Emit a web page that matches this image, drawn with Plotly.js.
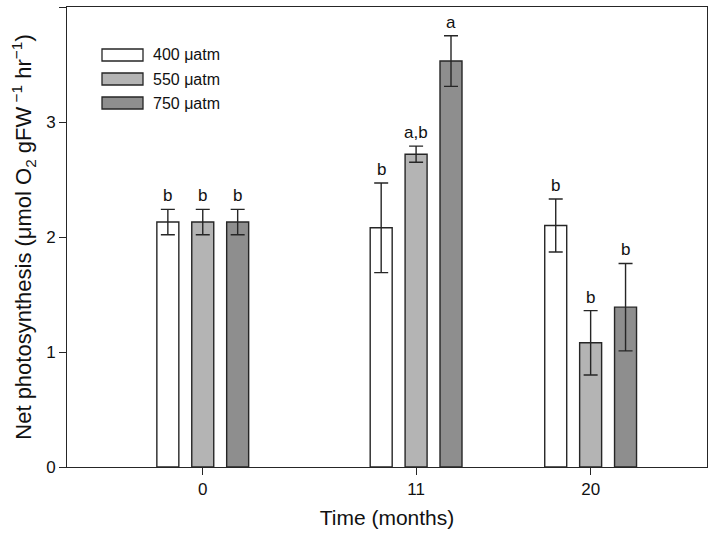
<!DOCTYPE html>
<html>
<head>
<meta charset="utf-8">
<script src="https://cdn.plot.ly/plotly-3.0.1.min.js"></script>
<style>html,body{margin:0;padding:0;background:#fff;}#chart{width:709px;height:534px;}</style>
</head>
<body>
<div id="chart"></div>
<script>
const months = [0, 11, 20];
const seriesNames = ['400 \u03bcatm', '550 \u03bcatm', '750 \u03bcatm'];
const values400 = [2.13, 2.08, 2.10];
const values550 = [2.13, 2.72, 1.08];
const values750 = [2.13, 3.53, 1.39];
const err400 = [0.11, 0.39, 0.23];
const err550 = [0.11, 0.07, 0.28];
const err750 = [0.11, 0.22, 0.38];
const letters400 = ['b', 'b', 'b'];
const letters550 = ['b', 'a,b', 'b'];
const letters750 = ['b', 'a', 'b'];
const fills = ['#ffffff', '#b4b4b4', '#8e8e8e'];

const allVals = [values400, values550, values750];
const allErr = [err400, err550, err750];
const allLetters = [letters400, letters550, letters750];

const groupSpan = 9 * 0.6;
const slot = groupSpan / 3;
const fontFam = 'Liberation Sans, Arial, sans-serif';
const lineCol = '#262626';

const traces = allVals.map((v, i) => ({
  type: 'bar',
  name: seriesNames[i],
  x: months,
  y: v,
  showlegend: false,
  marker: {color: fills[i], line: {color: lineCol, width: 1.4}},
  error_y: {type: 'data', array: allErr[i], visible: true, color: lineCol, thickness: 1.4, width: 7}
}));

const annotations = [];
allVals.forEach((v, i) => {
  v.forEach((val, j) => {
    annotations.push({
      x: months[j] + (i - 1) * slot,
      y: val + allErr[i][j],
      xref: 'x', yref: 'y',
      text: allLetters[i][j],
      showarrow: false,
      yanchor: 'bottom',
      yshift: 2,
      font: {family: fontFam, size: 17, color: '#111'}
    });
  });
});

// custom legend (wide rectangles like the original)
const plotL = 67, plotT = 7, plotW = 640, plotH = 460;
const px = p => (p - plotL) / plotW;
const py = p => (plotT + plotH - p) / plotH;
const shapes = [];
const legRows = [55, 79, 103];
seriesNames.forEach((name, i) => {
  shapes.push({
    type: 'rect', xref: 'paper', yref: 'paper',
    x0: px(102), x1: px(143), y0: py(legRows[i] + 6), y1: py(legRows[i] - 6),
    fillcolor: fills[i], line: {color: lineCol, width: 1.3}
  });
  annotations.push({
    xref: 'paper', yref: 'paper', x: px(151), y: py(legRows[i]),
    xanchor: 'left', yanchor: 'middle', showarrow: false,
    text: name, font: {family: fontFam, size: 16, color: '#111'}
  });
});

const layout = {
  width: 709, height: 534,
  margin: {l: 67, r: 2, t: 7, b: 67},
  paper_bgcolor: '#fff', plot_bgcolor: '#fff',
  barmode: 'group', bargap: 0.4, bargroupgap: 0.37,
  font: {family: fontFam, size: 17, color: '#111'},
  showlegend: false,
  xaxis: {
    range: [-7, 26],
    tickvals: months,
    ticktext: months.map(String),
    ticks: 'outside', ticklen: 7, tickcolor: lineCol, tickwidth: 1,
    showline: true, linecolor: lineCol, linewidth: 1, mirror: true,
    showgrid: false, zeroline: false,
    tickfont: {size: 17},
    title: {text: 'Time (months)', font: {size: 21}, standoff: 11}
  },
  yaxis: {
    range: [0, 4],
    tickvals: [0, 1, 2, 3, 4],
    ticks: 'outside', ticklen: 7, tickcolor: lineCol, tickwidth: 1,
    showline: true, linecolor: lineCol, linewidth: 1, mirror: true,
    showgrid: false, zeroline: false,
    tickfont: {size: 17},
    title: {text: 'Net photosynthesis (\u03bcmol O<sub>2</sub> gFW<sup> \u22121</sup> hr<sup>\u22121</sup>)', font: {size: 22}, standoff: 8}
  },
  shapes: shapes,
  annotations: annotations
};

Plotly.newPlot('chart', traces, layout, {displayModeBar: false, staticPlot: true});
</script>
</body>
</html>
